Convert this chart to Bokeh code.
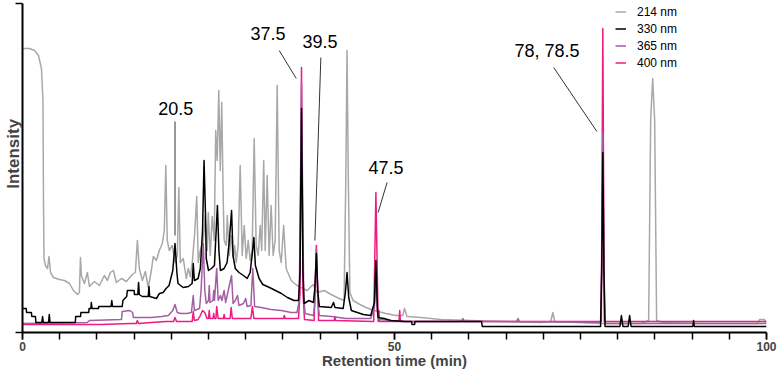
from bokeh.core.properties import value
from bokeh.embed import file_html
from bokeh.models import FixedTicker, Legend, LegendItem, Range1d
from bokeh.plotting import figure
from bokeh.resources import INLINE

# Chromatogram traces: (retention time in min, detector response in a.u.)
TRACE_214 = [
    (0, 284), (0.94, 284), (1.61, 282), (2.15, 277), (2.55, 264), (2.75, 232), (2.82, 132),
    (2.89, 74), (3.09, 67), (3.36, 64), (3.56, 76), (3.76, 60), (4.16, 55), (4.97, 53),
    (5.64, 52), (6.31, 49), (6.85, 42), (7.38, 38), (7.65, 40), (7.79, 75), (7.92, 57),
    (8.32, 49), (8.72, 60), (8.99, 46), (9.66, 51), (10.34, 47), (11.0, 57), (11.41, 52),
    (11.81, 60), (12.21, 62), (12.62, 50), (13.29, 54), (13.96, 51), (14.77, 58), (15.17, 60),
    (15.44, 92), (15.7, 64), (16.11, 52), (16.51, 61), (16.91, 45), (17.32, 62), (17.58, 76),
    (17.99, 72), (18.39, 82), (18.79, 89), (19.06, 102), (19.26, 167), (19.46, 92), (19.73, 82),
    (20.13, 87), (20.54, 70), (20.81, 77), (21.01, 145), (21.21, 70), (21.61, 74), (22.01, 54),
    (22.28, 64), (22.55, 56), (22.82, 70), (23.15, 100), (23.42, 136), (23.62, 70), (23.89, 82),
    (24.3, 92), (24.56, 117), (24.83, 82), (24.97, 120), (25.23, 77), (25.5, 116), (25.77, 92),
    (25.97, 202), (26.17, 172), (26.38, 242), (26.58, 162), (26.78, 230), (26.98, 132),
    (27.11, 92), (27.38, 87), (27.52, 117), (27.79, 77), (28.05, 97), (28.32, 74), (28.52, 87),
    (28.72, 70), (28.99, 87), (29.26, 167), (29.53, 77), (29.8, 107), (30.07, 74), (30.34, 92),
    (30.6, 72), (30.87, 82), (31.14, 194), (31.41, 87), (31.68, 77), (31.95, 107), (32.15, 82),
    (32.42, 172), (32.62, 82), (32.89, 157), (33.15, 77), (33.42, 127), (33.69, 77), (33.96, 92),
    (34.23, 247), (34.5, 82), (34.77, 70), (35.1, 107), (35.44, 64), (36.11, 52), (36.91, 47),
    (37.45, 45), (38.26, 42), (39.06, 48), (39.6, 40), (40.54, 42), (41.48, 38), (42.55, 34),
    (43.22, 32), (43.45, 150), (43.62, 282), (43.8, 150), (44.0, 40), (44.43, 32), (45.1, 29),
    (46.17, 25), (47.25, 22), (48.86, 19), (50.2, 17), (51.1, 17), (51.35, 24), (51.68, 16),
    (53.56, 15), (56.24, 13), (60.27, 12), (64.3, 11), (69.66, 10), (71.0, 11), (71.28, 20),
    (71.54, 11), (77.72, 9), (83.09, 9), (84.16, 12), (84.43, 212), (84.7, 254), (84.97, 212),
    (85.23, 12), (86.04, 10), (91.14, 9), (98.79, 9), (99.06, 13), (99.73, 13), (100, 9),
]

TRACE_330 = [
    (0, 24), (0.5, 24), (0.55, 20), (1.2, 20), (1.25, 16), (1.74, 16), (1.8, 10), (2.6, 10),
    (2.7, 16), (2.8, 10), (3.5, 10), (3.6, 18), (3.7, 10), (7.1, 10), (7.15, 16), (7.8, 16),
    (7.85, 20), (8.9, 20), (8.95, 24), (9.2, 24), (9.25, 30), (9.35, 24), (10.2, 24), (10.25, 26),
    (11.9, 26), (12.0, 32), (12.1, 26), (13.4, 26), (13.5, 32), (14.0, 36), (14.1, 42), (15.0, 42),
    (15.05, 38), (15.5, 38), (15.6, 50), (15.7, 38), (16.1, 36), (16.9, 36), (17.0, 46),
    (17.1, 36), (18.0, 34), (18.4, 39), (18.9, 40), (19.3, 44), (19.7, 47), (20.2, 62),
    (20.5, 89), (20.75, 60), (20.9, 49), (21.6, 45), (22.3, 46), (22.8, 49), (22.95, 69),
    (23.1, 52), (23.6, 54), (23.9, 64), (24.2, 102), (24.4, 172), (24.6, 117), (24.7, 74),
    (25.0, 62), (25.4, 64), (25.8, 67), (26.0, 97), (26.2, 127), (26.4, 82), (26.6, 62),
    (27.1, 64), (27.5, 70), (27.8, 92), (28.1, 122), (28.3, 77), (28.6, 64), (29.1, 60),
    (29.7, 57), (30.2, 54), (30.6, 60), (30.9, 80), (31.1, 95), (31.3, 67), (31.8, 54),
    (32.3, 48), (33.2, 45), (34.0, 42), (34.8, 39), (35.6, 35), (36.5, 32), (37.1, 32),
    (37.3, 60), (37.5, 224), (37.7, 60), (37.85, 29), (38.5, 32), (39.1, 30), (39.3, 45),
    (39.5, 79), (39.7, 40), (39.9, 26), (41.5, 25), (41.8, 30), (42.0, 25), (43.1, 24),
    (43.4, 40), (43.62, 60), (43.85, 35), (44.2, 22), (45.0, 20), (45.8, 18), (46.8, 17),
    (47.3, 30), (47.5, 72), (47.7, 25), (47.8, 15), (48.6, 14), (49.5, 12), (51.5, 11),
    (52.3, 11), (52.35, 8), (52.7, 8), (52.75, 11), (61.7, 11), (61.8, 6), (77.7, 6),
    (77.85, 60), (78.0, 180), (78.15, 60), (78.3, 6), (80.3, 6), (80.5, 17), (80.7, 6),
    (81.4, 6), (81.6, 17), (81.8, 6), (90.1, 6), (90.2, 12), (90.3, 6), (100, 6),
]

TRACE_365 = [
    (0, 9), (8.7, 10), (9.0, 12), (13.3, 13), (13.4, 21), (14.4, 22), (14.8, 20), (14.9, 15),
    (17.3, 15), (18.7, 16), (19.6, 17), (20.2, 22), (20.5, 28), (20.8, 20), (21.3, 19),
    (22.1, 19), (22.7, 20), (22.95, 37), (23.1, 22), (23.8, 24), (24.0, 42), (24.3, 89),
    (24.5, 42), (24.7, 29), (25.0, 32), (25.1, 47), (25.2, 30), (25.6, 32), (25.7, 42),
    (25.8, 32), (26.1, 64), (26.3, 32), (26.6, 37), (26.8, 32), (27.1, 42), (27.3, 30),
    (28.1, 57), (28.3, 29), (28.6, 32), (28.9, 37), (29.1, 27), (29.7, 29), (30.0, 34),
    (30.2, 26), (30.7, 27), (30.95, 64), (31.2, 26), (32.1, 25), (33.4, 23), (34.8, 22),
    (36.1, 20), (36.9, 20), (37.2, 32), (37.5, 250), (37.8, 32), (38.0, 19), (39.1, 17),
    (39.3, 30), (39.5, 83), (39.7, 30), (39.9, 17), (41.5, 16), (43.5, 14), (46.8, 14),
    (47.3, 25), (47.5, 60), (47.7, 20), (47.9, 13), (49.5, 12), (50.9, 11), (59.0, 11),
    (59.2, 14), (59.4, 11), (66.4, 11), (66.6, 14), (66.8, 11), (77.7, 10), (77.85, 70),
    (78.0, 200), (78.15, 70), (78.3, 9), (100, 9),
]

TRACE_400 = [
    (0, 8), (10.6, 8), (14.6, 9), (15.3, 9), (15.44, 12), (15.6, 9), (17.3, 10), (19.3, 11),
    (20.3, 11), (20.5, 15), (20.7, 11), (22.8, 11), (22.95, 21), (23.1, 12), (23.6, 13),
    (23.9, 17), (24.2, 22), (24.5, 20), (24.8, 14), (25.0, 14), (25.1, 22), (25.2, 14),
    (25.6, 14), (25.7, 19), (25.8, 14), (26.0, 14), (26.1, 26), (26.3, 14), (27.0, 14),
    (27.1, 18), (27.2, 14), (27.9, 14), (28.05, 25), (28.2, 14), (30.7, 14), (30.9, 26),
    (31.1, 14), (35.1, 14), (35.2, 17), (35.3, 14), (37.1, 14), (37.3, 40), (37.5, 265),
    (37.7, 40), (37.9, 13), (39.2, 12), (39.5, 87), (39.8, 12), (41.9, 12), (42.0, 16),
    (42.1, 12), (47.2, 11), (47.5, 140), (47.8, 11), (47.9, 22), (48.0, 11), (50.6, 11),
    (50.7, 22), (50.8, 11), (77.8, 11), (78.0, 304), (78.2, 11), (100, 11),
]

SERIES_NAMES = ["214 nm", "330 nm", "365 nm", "400 nm"]
SERIES_COLORS = ["#a8a8a8", "#000000", "#a35ea3", "#ec1c80"]

# Peak annotations: label text, label anchor, and leader line ends
PEAK_TEXT = ["20.5", "37.5", "39.5", "47.5", "78, 78.5"]
PEAK_TEXT_T = [20.6, 33.0, 40.0, 48.85, 70.5]
PEAK_TEXT_V = [224, 299, 291, 165, 282]
LEADER_T0 = [20.5, 34.5, 40.1, 49.0, 71.4]
LEADER_V0 = [211, 282, 275, 150, 265]
LEADER_T1 = [20.5, 36.8, 39.3, 47.8, 77.2]
LEADER_V1 = [97, 254, 92, 120, 201]

X_MAJOR = [0, 50, 100]
X_MINOR = list(range(0, 101, 5))
Y_MAX = 329

FONT = "Liberation Sans"

p = figure(
    width=778, height=374, output_backend="svg", toolbar_location=None,
    x_range=Range1d(0, 100), y_range=Range1d(0, Y_MAX),
    min_border_left=21, min_border_right=12, min_border_top=3, min_border_bottom=42,
)
p.outline_line_color = None
p.xgrid.visible = False
p.ygrid.visible = False


def unzip(pairs):
    return [t for t, _ in pairs], [v for _, v in pairs]


traces = dict(zip(SERIES_NAMES, [TRACE_214, TRACE_330, TRACE_365, TRACE_400]))
colors = dict(zip(SERIES_NAMES, SERIES_COLORS))

renderers = {}
for name in ["214 nm", "400 nm", "365 nm", "330 nm"]:
    t, v = unzip(traces[name])
    renderers[name] = p.line(t, v, line_color=colors[name], line_width=1.5, line_join="round")

# Leader lines and peak labels
p.segment(x0=LEADER_T0, y0=LEADER_V0, x1=LEADER_T1, y1=LEADER_V1,
          line_color="#333333", line_width=1)
p.text(x=PEAK_TEXT_T, y=PEAK_TEXT_V, text=PEAK_TEXT, text_font=value(FONT),
       text_font_size="18px", text_align="center", text_baseline="middle", text_color="black")

# x axis
xa = p.xaxis[0]
xa.ticker = FixedTicker(ticks=X_MAJOR, minor_ticks=X_MINOR)
xa.axis_line_width = 2
xa.major_tick_in = 0
xa.major_tick_out = 7
xa.minor_tick_in = 0
xa.minor_tick_out = 7
xa.major_tick_line_width = 1.5
xa.minor_tick_line_width = 1.5
xa.major_label_text_font = FONT
xa.major_label_text_font_size = "12px"
xa.major_label_text_font_style = "bold"
xa.major_label_standoff = 2
xa.axis_label = "Retention time (min)"
xa.axis_label_text_font = FONT
xa.axis_label_text_font_size = "15px"
xa.axis_label_text_font_style = "bold"
xa.axis_label_standoff = -2

# y axis: line with end ticks only; title pulled close to the line and
# nudged above the middle with leading no-break spaces
ya = p.yaxis[0]
ya.ticker = FixedTicker(ticks=[0, Y_MAX])
ya.major_label_overrides = {0: "", Y_MAX: ""}
ya.major_label_text_font_size = "1px"
ya.major_label_standoff = 0
ya.axis_line_width = 2
ya.major_tick_in = 0
ya.major_tick_out = 7
ya.major_tick_line_width = 1.5
ya.axis_label = "\u00a0" * 6 + "Intensity"
ya.axis_label_text_font = FONT
ya.axis_label_text_font_size = "17px"
ya.axis_label_text_font_style = "bold"
ya.axis_label_standoff = -7

legend = Legend(
    items=[LegendItem(label=n, renderers=[renderers[n]]) for n in SERIES_NAMES],
    location=(593, 261), padding=0, spacing=0, margin=0,
    glyph_width=11, glyph_height=17, label_height=17, label_standoff=11,
    label_text_font=FONT, label_text_font_size="12px", label_text_color="black",
    border_line_color=None, background_fill_alpha=0,
)
p.add_layout(legend)

open("out.html", "w").write(file_html(p, INLINE))
